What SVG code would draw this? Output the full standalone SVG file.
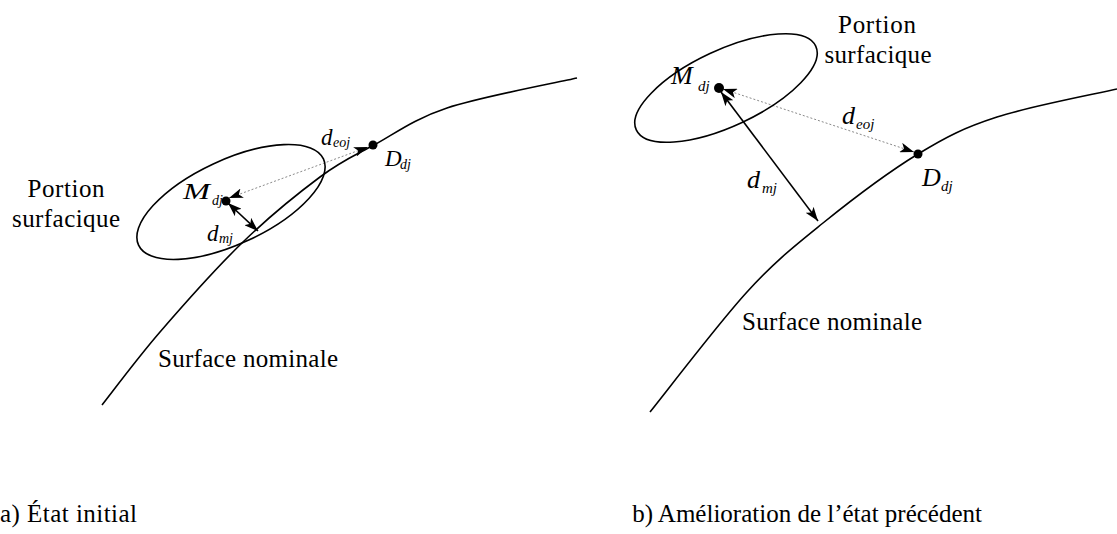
<svg xmlns="http://www.w3.org/2000/svg" width="1117" height="534" viewBox="0 0 1117 534">
<style>
.bg{fill:#fff}
.curve{fill:none;stroke:#000;stroke-width:1.6}
.ell{fill:none;stroke:#000;stroke-width:1.6}
.dist{fill:none;stroke:#000;stroke-width:1.6}
.dot{fill:none;stroke:#8a8a8a;stroke-width:1;stroke-dasharray:2 2}
.pt{fill:#000}
.txt{font-family:"Liberation Serif","Times New Roman",serif;font-size:25px;fill:#000}
.lbl{font-family:"Liberation Serif","Times New Roman",serif;font-style:italic;fill:#000}
.l1{font-size:23px}.s1{font-size:14px}
.l2{font-size:26px}.s2{font-size:15px}
</style>
<defs>
<marker id="ah" viewBox="0 0 14 10" refX="14" refY="5" markerWidth="14" markerHeight="10" markerUnits="userSpaceOnUse" orient="auto-start-reverse">
<path d="M0,0 L14,5 L0,10 L3.5,5 z" fill="#000"/>
</marker>
</defs>
<rect class="bg" x="0" y="0" width="1117" height="534"/>

<g id="connectors">
<line class="dot" x1="229" y1="198" x2="368" y2="147" marker-start="url(#ah)" marker-end="url(#ah)"/>
<line class="dist" x1="228" y1="203" x2="258" y2="231" marker-start="url(#ah)" marker-end="url(#ah)"/>
<line class="dot" x1="723" y1="89" x2="914" y2="152" marker-start="url(#ah)" marker-end="url(#ah)"/>
<line class="dist" x1="721" y1="92" x2="818" y2="221" marker-start="url(#ah)" marker-end="url(#ah)"/>
</g>

<g id="surface-left">
<path class="curve" d="M102,405 C111.7,392.8 136.5,359.2 160,332 C183.5,304.8 216.3,267.8 243,242 C269.7,216.2 298.2,193.2 320,177 C341.8,160.8 352.8,156.5 374,145 C395.2,133.5 413.2,119.2 447,108 C480.8,96.8 555.3,83 577,78"/>
<text class="txt" x="158" y="367" textLength="180" lengthAdjust="spacing">Surface nominale</text>
</g>

<g id="portion-left">
<ellipse class="ell" cx="231" cy="202" rx="102" ry="42" transform="rotate(-25 231 202)"/>
<text class="txt" x="66" y="197" text-anchor="middle" textLength="77" lengthAdjust="spacing">Portion</text>
<text class="txt" x="66" y="227" text-anchor="middle" textLength="108" lengthAdjust="spacing">surfacique</text>
</g>

<g id="M-left">
<circle class="pt" cx="226" cy="201" r="4.5"/>
<text class="lbl l1" x="183" y="199" textLength="27" lengthAdjust="spacingAndGlyphs">M</text>
<text class="lbl s1" x="212" y="205">dj</text>
</g>
<g id="D-left">
<circle class="pt" cx="373" cy="145" r="4.5"/>
<text class="lbl l1" x="385" y="166">D<tspan class="s1" x="400" y="169">dj</tspan></text>
</g>
<g id="labels-left">
<text class="lbl l1" x="207" y="241">d<tspan class="s1" x="219" y="243">mj</tspan></text>
<text class="lbl l1" x="321" y="145">d<tspan class="s1" x="333" y="147">eoj</tspan></text>
</g>

<g id="surface-right">
<path class="curve" d="M650,412 C666.2,392 718.2,323.5 747,292 C775.8,260.5 794.5,246 823,223 C851.5,200 889,171.7 918,154 C947,136.3 963.8,127.8 997,117 C1030.2,106.2 1097,93.7 1117,89"/>
<text class="txt" x="742" y="330" textLength="180" lengthAdjust="spacing">Surface nominale</text>
</g>

<g id="portion-right">
<ellipse class="ell" cx="726" cy="88" rx="99" ry="38" transform="rotate(-25 726 88)"/>
<text class="txt" x="877" y="33" text-anchor="middle" textLength="78" lengthAdjust="spacing">Portion</text>
<text class="txt" x="878" y="63" text-anchor="middle" textLength="107" lengthAdjust="spacing">surfacique</text>
</g>

<g id="M-right">
<circle class="pt" cx="719" cy="88" r="5"/>
<text class="lbl l2" x="671" y="84">M<tspan class="s2" x="698" y="91">dj</tspan></text>
</g>
<g id="D-right">
<circle class="pt" cx="918" cy="154" r="4.5"/>
<text class="lbl l2" x="922" y="186">D<tspan class="s2" x="941" y="191">dj</tspan></text>
</g>
<g id="labels-right">
<text class="lbl l2" x="747" y="188">d<tspan class="s2" x="762" y="193">mj</tspan></text>
<text class="lbl l2" x="842" y="124">d<tspan class="s2" x="856" y="129">eoj</tspan></text>
</g>

<g id="captions">
<text class="txt" x="0" y="522" textLength="137" lengthAdjust="spacing">a) État initial</text>
<text class="txt" x="982" y="522" text-anchor="end">b) Amélioration de l’état précédent</text>
</g>
</svg>
